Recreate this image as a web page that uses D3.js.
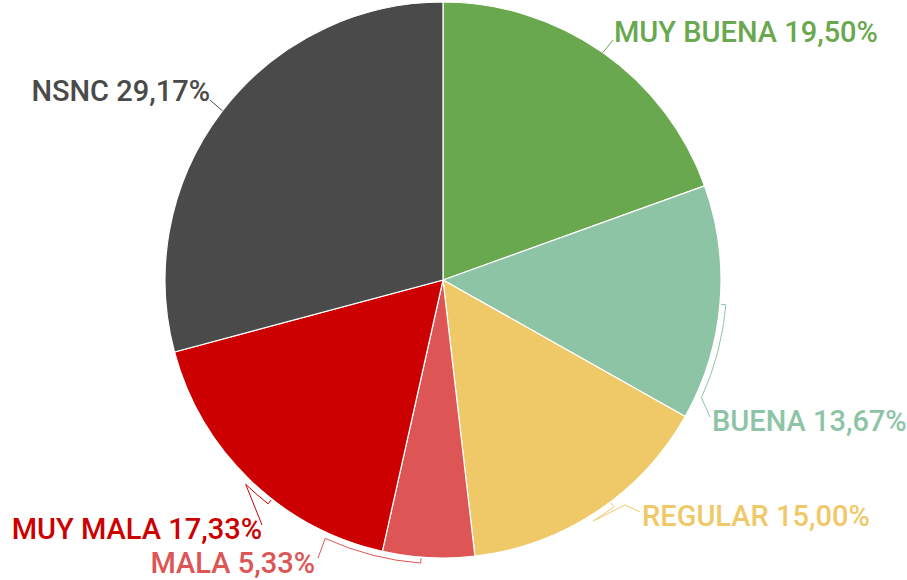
<!DOCTYPE html>
<head>
<meta charset="utf-8">
<style>
  body { margin: 0; background: #fff; }
  .label { font-family: Roboto, "Noto Sans", sans-serif; font-size: 29px; font-weight: 500; }
  .leader { fill: none; stroke-width: 1px; }
</style>
</head>
<body>
<script src="https://d3js.org/d3.v7.min.js"></script>
<script>
// data
var categories = ["MUY BUENA", "BUENA", "REGULAR", "MALA", "MUY MALA", "NSNC"];
var values = [19.50, 13.67, 15.00, 5.33, 17.33, 29.17];
var colors = ["#6aa84f", "#8ec4a6", "#efc968", "#dd5555", "#cc0000", "#4a4a4a"];

var width = 907, height = 580;
var cx = 443, cy = 280, radius = 278;

// label layout: text anchor point, bracket span (deg) and knee points (relative to centre)
var labelLayout = [
  {x: 171, y: -238, anchor: "start", bracket: null, knees: [[170, -240]]},
  {x: 269, y: 151, anchor: "start", bracket: [95, 114.5], knees: [[267, 137]]},
  {x: 199, y: 246, anchor: "start", bracket: [143, 148], knees: [[182, 225], [197, 232]]},
  {x: -128, y: 293, anchor: "end", bracket: [184.5, 204.5], knees: [[-125, 278]]},
  {x: -181, y: 259, anchor: "end", bracket: [218, 224], knees: [[-181, 245]]},
  {x: -233, y: -179, anchor: "end", bracket: null, knees: [[-233, -180]]}
];

var fmt = function(v) { return v.toFixed(2).replace(".", ",") + "%"; };

var svg = d3.select("body").append("svg")
    .attr("width", width)
    .attr("height", height)
  .append("g")
    .attr("transform", "translate(" + cx + "," + cy + ")");

var pie = d3.pie().sort(null).value(function(d) { return d; });
var arcs = pie(values);

var arc = d3.arc().innerRadius(0).outerRadius(radius);

svg.selectAll("path.slice")
    .data(arcs)
  .enter().append("path")
    .attr("class", "slice")
    .attr("d", arc)
    .attr("fill", function(d, i) { return colors[i]; })
    .attr("stroke", "#fff")
    .attr("stroke-width", 1.2);

function polar(r, deg) {
  var a = deg * Math.PI / 180;
  return [r * Math.sin(a), -r * Math.cos(a)];
}

// leader lines
arcs.forEach(function(d, i) {
  var L = labelLayout[i];
  var p = d3.path();
  if (L.bracket) {
    var rb = radius + 6;
    var a0 = L.bracket[0], a1 = L.bracket[1];
    var s = polar(radius + 1, a0);
    p.moveTo(s[0], s[1]);
    var e0 = polar(rb, a0);
    p.lineTo(e0[0], e0[1]);
    var r0 = (a0 - 90) * Math.PI / 180, r1 = (a1 - 90) * Math.PI / 180;
    p.arc(0, 0, rb, r0, r1, false);
  } else {
    var mid = (d.startAngle + d.endAngle) / 2 * 180 / Math.PI;
    var m = polar(radius, mid);
    p.moveTo(m[0], m[1]);
  }
  L.knees.forEach(function(k) { p.lineTo(k[0], k[1]); });
  svg.append("path")
      .attr("class", "leader")
      .attr("d", p.toString())
      .attr("stroke", colors[i]);
});

svg.selectAll("text.label")
    .data(arcs)
  .enter().append("text")
    .attr("class", "label")
    .attr("x", function(d, i) { return labelLayout[i].x; })
    .attr("y", function(d, i) { return labelLayout[i].y; })
    .attr("text-anchor", function(d, i) { return labelLayout[i].anchor; })
    .attr("fill", function(d, i) { return colors[i]; })
    .text(function(d, i) { return categories[i] + " " + fmt(values[i]); });
</script>
</body>
